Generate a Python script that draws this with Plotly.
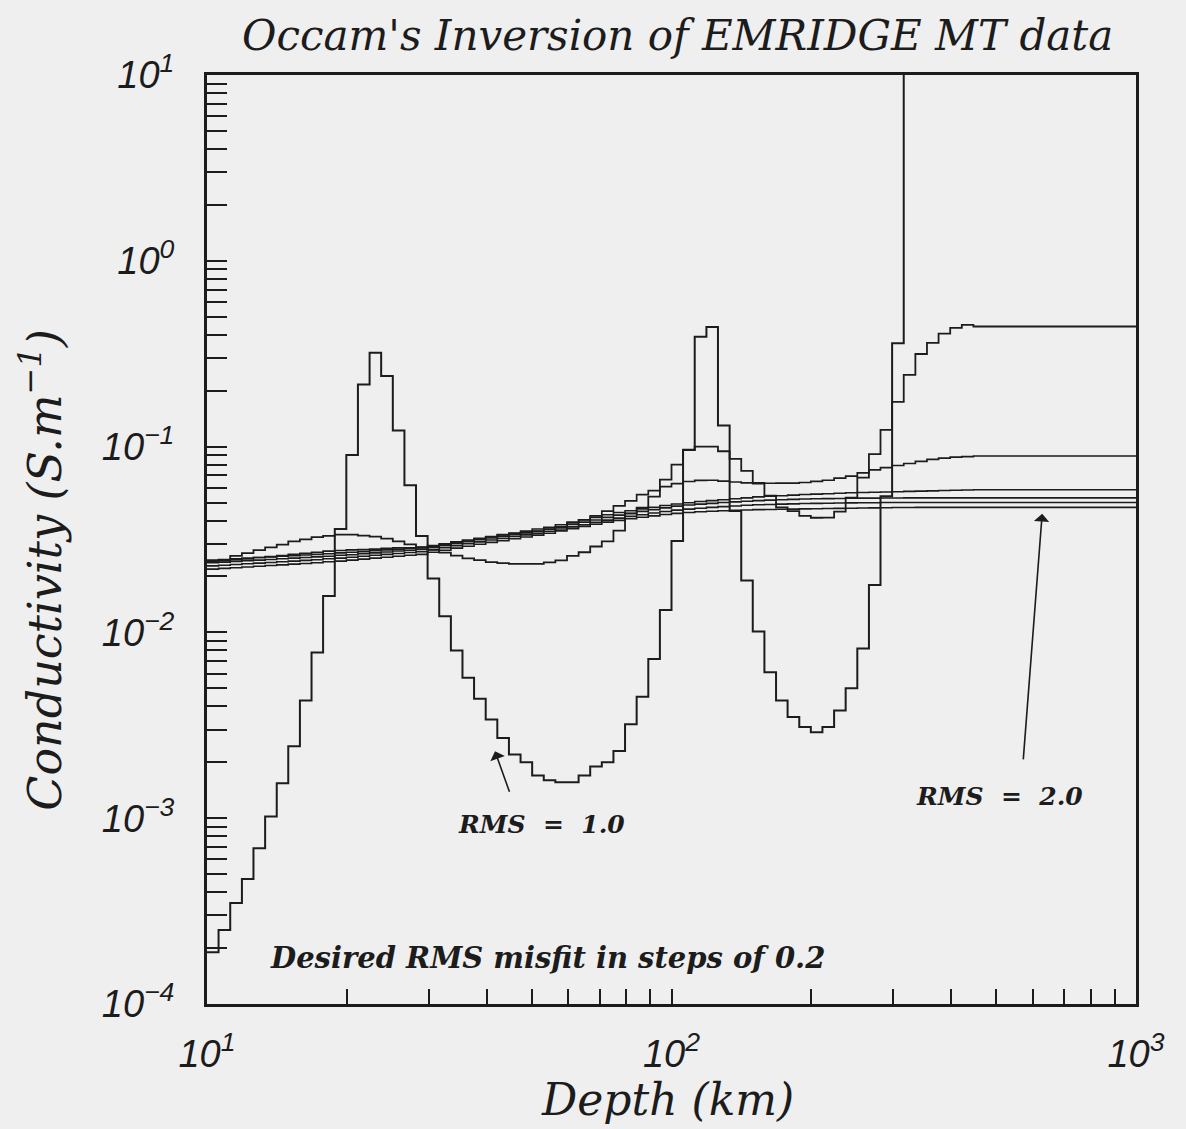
import plotly.graph_objects as go

# ---------------- data ----------------
# tops of the model layers (km); last layer extends to the bottom of the plot
layer_top_km = [10.0, 10.59, 11.22, 11.89, 12.59, 13.34, 14.13, 14.96, 15.85, 16.79,
                17.78, 18.84, 19.95, 21.13, 22.39, 23.71, 25.12, 26.61, 28.18, 29.85,
                31.62, 33.50, 35.48, 37.58, 39.81, 42.17, 44.67, 47.32, 50.12, 53.09,
                56.23, 59.57, 63.10, 66.83, 70.79, 74.99, 79.43, 84.14, 89.13, 94.41,
                100.0, 105.9, 112.2, 118.9, 125.9, 133.4, 141.3, 149.6, 158.5, 167.9,
                177.8, 188.4, 199.5, 211.3, 223.9, 237.1, 251.2, 266.1, 281.8, 298.5,
                316.2, 335.0, 354.8, 375.8, 398.1, 421.7, 446.7]
model_bottom_km = 1000.0

# conductivity (S/m) of each layer, one list per Occam model
rms_1_0 = [0.00019, 0.00025, 0.00035, 0.00047, 0.00069, 0.00102, 0.00154, 0.00244, 0.0043, 0.0078,
           0.0157, 0.036, 0.09, 0.216, 0.32, 0.24, 0.122, 0.062, 0.033, 0.0195,
           0.0122, 0.0080, 0.0057, 0.0044, 0.0034, 0.0027, 0.0022, 0.0020, 0.0017, 0.0016,
           0.00156, 0.00156, 0.0017, 0.0019, 0.0020, 0.0023, 0.0032, 0.0045, 0.0072, 0.0132,
           0.031, 0.096, 0.39, 0.44, 0.13, 0.045, 0.019, 0.0101, 0.0061, 0.0043,
           0.0035, 0.0031, 0.0029, 0.0031, 0.0038, 0.0050, 0.0082, 0.018, 0.054, 0.36,
           40, 40, 40, 40, 40, 40, 40]

rms_1_2 = [0.0240, 0.0245, 0.0258, 0.0267, 0.0277, 0.0287, 0.0297, 0.0309, 0.0317, 0.0326,
           0.0331, 0.0336, 0.0336, 0.0332, 0.0328, 0.0320, 0.0309, 0.0298, 0.0288, 0.0278,
           0.0269, 0.0259, 0.0250, 0.0245, 0.0239, 0.0236, 0.0234, 0.0234, 0.0234, 0.0238,
           0.0244, 0.0258, 0.0270, 0.0290, 0.0309, 0.0353, 0.0436, 0.0469, 0.0538, 0.0664,
           0.0800, 0.0963, 0.100, 0.100, 0.0944, 0.0858, 0.0740, 0.0632, 0.0545, 0.0471,
           0.0449, 0.0424, 0.0414, 0.0415, 0.0447, 0.0531, 0.0680, 0.0910, 0.123, 0.174,
           0.243, 0.315, 0.362, 0.406, 0.436, 0.452, 0.443]

rms_1_4 = [0.0240, 0.0243, 0.0246, 0.0249, 0.0253, 0.0256, 0.0259, 0.0263, 0.0266, 0.0270,
           0.0274, 0.0276, 0.0278, 0.0279, 0.0281, 0.0283, 0.0285, 0.0285, 0.0286, 0.0290,
           0.0298, 0.0306, 0.0310, 0.0319, 0.0327, 0.0336, 0.0340, 0.0345, 0.0350, 0.0360,
           0.0369, 0.0388, 0.0403, 0.0424, 0.0450, 0.0480, 0.0510, 0.0551, 0.0579, 0.0609,
           0.0632, 0.0649, 0.0658, 0.0659, 0.0652, 0.0645, 0.0638, 0.0638, 0.0635, 0.0636,
           0.0636, 0.0641, 0.0650, 0.0659, 0.0676, 0.0694, 0.0722, 0.0750, 0.0770, 0.0791,
           0.0811, 0.0832, 0.0854, 0.0866, 0.0877, 0.0883, 0.0890]

rms_1_6 = [0.0245, 0.0247, 0.0249, 0.0251, 0.0253, 0.0255, 0.0257, 0.0259, 0.0261, 0.0263,
           0.0265, 0.0268, 0.0270, 0.0272, 0.0275, 0.0278, 0.0280, 0.0283, 0.0286, 0.0293,
           0.0300, 0.0307, 0.0314, 0.0321, 0.0328, 0.0335, 0.0343, 0.0351, 0.0360, 0.0368,
           0.0380, 0.0392, 0.0404, 0.0416, 0.0430, 0.0442, 0.0452, 0.0462, 0.0472, 0.0482,
           0.0491, 0.0499, 0.0506, 0.0512, 0.0518, 0.0524, 0.0530, 0.0536, 0.0540, 0.0544,
           0.0548, 0.0552, 0.0555, 0.0558, 0.0561, 0.0564, 0.0566, 0.0568, 0.0570, 0.0572,
           0.0574, 0.0576, 0.0578, 0.0580, 0.0582, 0.0584, 0.0586]

rms_1_8 = [0.0237, 0.0239, 0.0241, 0.0243, 0.0245, 0.0247, 0.0249, 0.0251, 0.0253, 0.0255,
           0.0257, 0.0260, 0.0262, 0.0265, 0.0268, 0.0271, 0.0274, 0.0277, 0.0280, 0.0287,
           0.0294, 0.0301, 0.0308, 0.0315, 0.0322, 0.0329, 0.0336, 0.0343, 0.0351, 0.0359,
           0.0370, 0.0381, 0.0392, 0.0403, 0.0416, 0.0428, 0.0438, 0.0448, 0.0458, 0.0468,
           0.0478, 0.0485, 0.0490, 0.0495, 0.0500, 0.0504, 0.0508, 0.0512, 0.0515, 0.0518,
           0.0520, 0.0522, 0.0524, 0.0525, 0.0526, 0.0527, 0.0528, 0.0528, 0.0529, 0.0529,
           0.0530, 0.0530, 0.0530, 0.0530, 0.0530, 0.0530, 0.0530]

rms_1_9 = [0.0228, 0.0230, 0.0232, 0.0234, 0.0236, 0.0238, 0.0240, 0.0242, 0.0244, 0.0246,
           0.0249, 0.0251, 0.0254, 0.0257, 0.0260, 0.0263, 0.0266, 0.0269, 0.0272, 0.0279,
           0.0286, 0.0293, 0.0300, 0.0307, 0.0314, 0.0321, 0.0328, 0.0335, 0.0342, 0.0350,
           0.0360, 0.0370, 0.0380, 0.0391, 0.0402, 0.0412, 0.0421, 0.0430, 0.0439, 0.0447,
           0.0455, 0.0461, 0.0466, 0.0471, 0.0475, 0.0479, 0.0483, 0.0486, 0.0488, 0.0490,
           0.0492, 0.0494, 0.0495, 0.0496, 0.0497, 0.0498, 0.0499, 0.0499, 0.0500, 0.0500,
           0.0500, 0.0500, 0.0500, 0.0500, 0.0500, 0.0500, 0.0500]

rms_2_0 = [0.0219, 0.0221, 0.0223, 0.0225, 0.0227, 0.0229, 0.0231, 0.0233, 0.0235, 0.0237,
           0.0240, 0.0242, 0.0245, 0.0248, 0.0251, 0.0254, 0.0257, 0.0260, 0.0263, 0.0270,
           0.0277, 0.0284, 0.0291, 0.0298, 0.0305, 0.0312, 0.0319, 0.0326, 0.0334, 0.0342,
           0.0352, 0.0362, 0.0372, 0.0382, 0.0392, 0.0401, 0.0409, 0.0417, 0.0424, 0.0431,
           0.0437, 0.0442, 0.0446, 0.0449, 0.0452, 0.0454, 0.0456, 0.0458, 0.0459, 0.0460,
           0.0461, 0.0462, 0.0463, 0.0464, 0.0465, 0.0466, 0.0467, 0.0468, 0.0469, 0.0470,
           0.0470, 0.0471, 0.0471, 0.0471, 0.0471, 0.0471, 0.0471]

x_major_vals = [10, 100, 1000]
x_major_text = ["10<sup>1</sup>", "10<sup>2</sup>", "10<sup>3</sup>"]
x_minor_vals = [20, 30, 40, 50, 60, 70, 80, 90, 200, 300, 400, 500, 600, 700, 800, 900]
y_major_vals = [1e-4, 1e-3, 1e-2, 1e-1, 1, 10]
y_major_text = ["10<sup>\u22124</sup>", "10<sup>\u22123</sup>", "10<sup>\u22122</sup>",
                "10<sup>\u22121</sup>", "10<sup>0</sup>", "10<sup>1</sup>"]
y_minor_vals = [m * 10.0 ** e for e in range(-4, 1) for m in range(2, 10)]

# ---------------- figure ----------------
INK = "#1c1c1c"
PAPER = "#efefef"

models = [("RMS 1.0", rms_1_0, 2.0), ("RMS 1.2", rms_1_2, 1.8), ("RMS 1.4", rms_1_4, 1.7),
          ("RMS 1.6", rms_1_6, 1.6), ("RMS 1.8", rms_1_8, 1.6), ("RMS 1.9", rms_1_9, 1.6),
          ("RMS 2.0", rms_2_0, 1.6)]

fig = go.Figure()
xs = layer_top_km + [model_bottom_km]
for name, vals, w in models:
    fig.add_trace(go.Scatter(
        x=xs, y=vals + [vals[-1]], mode="lines", name=name,
        line=dict(shape="hv", color=INK, width=w), showlegend=False,
    ))

tick_font = dict(family="Liberation Sans", size=38, color=INK, style="italic")

fig.update_xaxes(
    type="log", range=[1, 3], showgrid=False, zeroline=False,
    showline=True, linewidth=3, linecolor=INK, mirror=True,
    ticks="inside", ticklen=15, tickwidth=1.6, tickcolor=INK,
    tickmode="array", tickvals=x_major_vals, ticktext=x_major_text,
    minor=dict(ticks="inside", ticklen=15, tickwidth=1.6, tickcolor=INK,
               tickmode="array", tickvals=x_minor_vals, showgrid=False),
    tickfont=tick_font, ticklabelstandoff=14,
)
fig.update_yaxes(
    type="log", range=[-4, 1], showgrid=False, zeroline=False,
    showline=True, linewidth=3, linecolor=INK, mirror=True,
    ticks="inside", ticklen=20, tickwidth=1.6, tickcolor=INK,
    tickmode="array", tickvals=y_major_vals, ticktext=y_major_text,
    minor=dict(ticks="inside", ticklen=20, tickwidth=1.6, tickcolor=INK,
               tickmode="array", tickvals=y_minor_vals, showgrid=False),
    tickfont=tick_font, ticklabelstandoff=22,
)

serif_it = dict(family="DejaVu Serif", color=INK, style="italic")
label_it = dict(family="DejaVu Serif", color=INK, style="italic", weight="bold")

annotations = [
    dict(text="Occam's Inversion of EMRIDGE MT data", xref="paper", yref="paper",
         x=0.506, y=1.043, xanchor="center", yanchor="middle", showarrow=False,
         font=dict(size=42, **serif_it)),
    dict(text="Depth (km)", xref="paper", yref="paper", x=0.496, y=-0.103,
         xanchor="center", yanchor="middle", showarrow=False, font=dict(size=44, **serif_it)),
    dict(text="Conductivity (S.m<sup>\u22121</sup>)", xref="paper", yref="paper",
         x=-0.178, y=0.467, xanchor="center", yanchor="middle", textangle=-90,
         showarrow=False, font=dict(size=46, **serif_it)),
    dict(text="RMS  =  1.0", xref="paper", yref="paper", x=0.36, y=0.193,
         xanchor="center", yanchor="middle", showarrow=False, font=dict(size=25, **label_it)),
    dict(text="RMS  =  2.0", xref="paper", yref="paper", x=0.853, y=0.223,
         xanchor="center", yanchor="middle", showarrow=False, font=dict(size=25, **label_it)),
    dict(text="Desired RMS misfit in steps of 0.2", xref="paper", yref="paper",
         x=0.366, y=0.0495, xanchor="center", yanchor="middle", showarrow=False,
         font=dict(size=29, **label_it)),
    # arrows (heads given in log10 data coordinates)
    dict(text="", xref="x", yref="y", x=1.62, y=-2.64, ax=15, ay=42,
         showarrow=True, arrowhead=1, arrowsize=1.6, arrowwidth=1.6, arrowcolor=INK),
    dict(text="", xref="x", yref="y", x=2.798, y=-1.362, ax=-19, ay=247,
         showarrow=True, arrowhead=1, arrowsize=1.6, arrowwidth=1.6, arrowcolor=INK),
]

fig.update_layout(
    width=1186, height=1129,
    margin=dict(l=207, r=50, t=75, b=125),
    paper_bgcolor=PAPER, plot_bgcolor=PAPER,
    annotations=annotations,
    showlegend=False,
)

fig.write_html("out.html")
